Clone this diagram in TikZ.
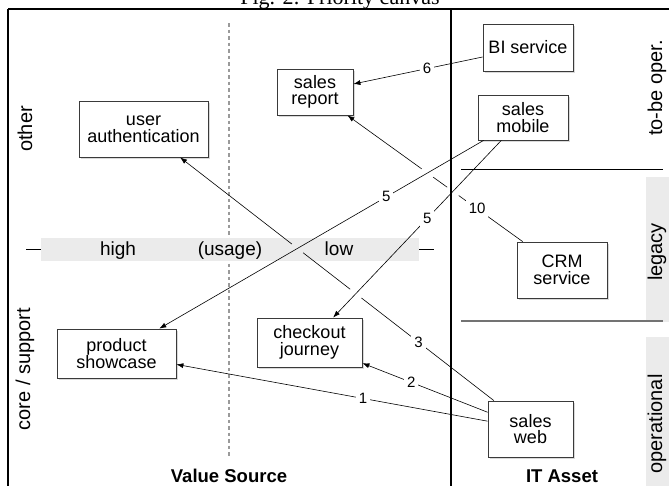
\documentclass[tikz,border=0pt]{standalone}
\usepackage{fontspec}
\setsansfont{Liberation Sans}
\newfontfamily\serifT{Liberation Serif}
\usetikzlibrary{shadows,arrows.meta,calc,intersections}
\definecolor{bandgray}{HTML}{EBEBEB}
\definecolor{boxline}{HTML}{3A3A3A}
\definecolor{dashgray}{HTML}{9A9A9A}
\begin{document}
\begin{tikzpicture}[x=1pt,y=-1pt,
  box/.style={draw=boxline, line width=0.8pt, fill=white, inner sep=0pt, align=center,
    font=\sffamily\fontsize{18}{16.5}\selectfont,
    drop shadow={shadow xshift=1.5pt, shadow yshift=-1.5pt, opacity=0.3}},
  link/.style={line width=0.6pt, -{Latex[length=7pt,width=5pt]}},
  num/.style={fill=white, inner sep=3pt, font=\sffamily\fontsize{15}{15}\selectfont},
  side/.style={font=\sffamily\fontsize{20}{20}\selectfont, rotate=90},
  axis/.style={font=\sffamily\fontsize{19}{19}\selectfont, anchor=base},
  head/.style={font=\sffamily\bfseries\fontsize{18.5}{18.5}\selectfont, anchor=base},
  cover/.style={line width=2.5pt, line cap=butt},
  frame/.style={line width=2pt},
]
\useasboundingbox (0,0) rectangle (669,485);
\clip (0,0) rectangle (669,485);

% title (cut off at top)
\node[anchor=base, font=\serifT\fontsize{22}{22}\selectfont] (title) at (340,4.5) {Fig. 2: Priority canvas};

% right grey bands
\fill[bandgray] (646,177) rectangle (669,322);
\fill[bandgray] (646,337) rectangle (669,500);

% dashed separator
\draw[dashgray, line width=1.2pt, dash pattern=on 3.5pt off 3pt] (229,23) -- (229,458);

% usage band
\fill[bandgray] (41,238) rectangle (419,261);
\coordinate (tl1) at (26,249);
\coordinate (tl2) at (41,249);
\coordinate (tr1) at (419,249);
\coordinate (tr2) at (434,249);
\draw[line width=0.8pt] (tl1) -- (tl2);
\draw[line width=0.8pt] (tr1) -- (tr2);
\node[axis] (high) at (118,255.5) {high};
\node[axis] (usage) at (230,255.5) {(usage)};
\node[axis] (low) at (339,255.5) {low};

% side labels
\node[side] (other) at (25,129) {other};
\node[side] (core) at (25,369) {core / support};
\node[side] (tobe) at (657,88) {to-be oper.};
\node[side] (legacy) at (657,252) {legacy};
\node[side] (oper) at (657,424) {operational};

% headings
\node[head] (vs) at (229,482) {Value Source};
\node[head] (ita) at (562,482) {IT Asset};

% boxes
\node[box, minimum width=90pt, minimum height=47pt] (bi) at (528,47.5) {BI service};
\node[box, minimum width=90pt, minimum height=45pt] (mob) at (523,117.5) {sales\\mobile};
\node[box, minimum width=90pt, minimum height=56pt] (crm) at (562,270) {CRM\\service};
\node[box, minimum width=85pt, minimum height=56pt] (web) at (530.5,429) {sales\\web};
\node[box, minimum width=76pt, minimum height=46pt] (rep) at (315,92) {sales\\report};
\node[box, minimum width=129pt, minimum height=56pt] (auth) at (143.5,129) {user\\authentication};
\node[box, minimum width=119pt, minimum height=49pt] (show) at (116.5,353.5) {product\\showcase};
\node[box, minimum width=105pt, minimum height=49pt] (chk) at (309.5,342.5) {checkout\\journey};

% earlier links (get interrupted at crossings)
\draw[link, name path=e3] (web) -- node[num, pos=0.24] {3} (auth);
\draw[link, name path=e10] (crm) -- node[num, pos=0.26] {10} (rep);

\path[name path=m1] (mob) -- (show);
\path[name path=m2] (mob) -- (chk);
\path[name intersections={of=e3 and m1, by=xa}];
\path[name intersections={of=e3 and m2, by=xb}];
\path[name intersections={of=e10 and m1, by=xc}];
\path[name intersections={of=e10 and m2, by=xd}];
\draw[cover, bandgray] ($(xa)!7pt!(web)$) -- ($(xa)!7pt!(auth)$);
\draw[cover, white] ($(xb)!7pt!(web)$) -- ($(xb)!7pt!(auth)$);
\draw[cover, white] ($(xc)!7pt!(crm)$) -- ($(xc)!7pt!(rep)$);
\draw[cover, white] ($(xd)!7pt!(crm)$) -- ($(xd)!7pt!(rep)$);

% frame lines
\draw[frame] (8,9) -- (700,9);
\draw[frame] (8,9) -- (8,500);
\draw[frame] (451,9) -- (451,500);
\draw[line width=0.8pt] (461,169) -- (663,169);
\draw[line width=1.2pt, black!55] (461,321) -- (663,321);

% later links
\draw[link] (mob) -- node[num, pos=0.30] {5} (show);
\draw[link] (mob) -- node[num, pos=0.44] {5} (chk);
\draw[link] (bi) -- node[num, pos=0.43] {6} (rep);
\draw[link] (web) -- node[num, pos=0.61] {2} (chk);
\draw[link] (web) -- node[num, pos=0.40] {1} (show);
\end{tikzpicture}
\end{document}
